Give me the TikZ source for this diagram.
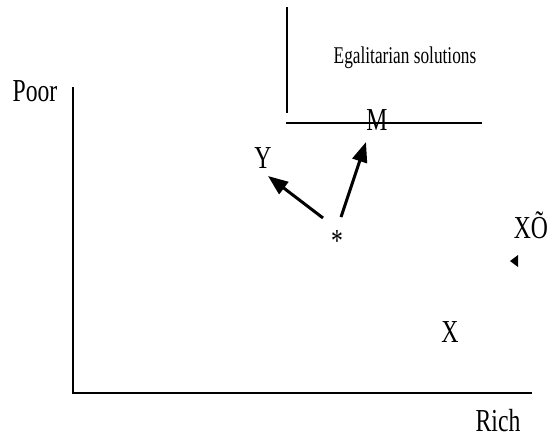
\documentclass[tikz,border=0pt]{standalone}
\usepackage{fontspec}
\setmainfont{Liberation Serif}[FakeStretch=0.74]
\newfontfamily\egalfont{Liberation Serif}[FakeStretch=0.72]
\usetikzlibrary{arrows.meta}
\begin{document}
\begin{tikzpicture}[x=1pt,y=-1pt,
  lbl/.style={font=\fontsize{32}{36}\selectfont, inner sep=0pt},
  smalllbl/.style={font=\egalfont\fontsize{24}{28}\selectfont, inner sep=0pt},
  axis/.style={line width=2pt},
  bound/.style={line width=2.6pt},
  arr/.style={line width=3pt, -{Triangle[length=20pt,width=15pt]}}]
\useasboundingbox (0,0) rectangle (550,445);
% axes
\coordinate (o) at (73,393);
\coordinate (ytop) at (73,87);
\coordinate (xend) at (532,393);
\draw[axis] (ytop) -- (o) -- (xend);
\node[lbl] (poor) at (35,91) {Poor};
\node[lbl] (rich) at (498,421) {Rich};
% egalitarian region
\coordinate (ev1) at (287,7);
\coordinate (ev2) at (287,113);
\coordinate (eh1) at (286,123);
\coordinate (eh2) at (482,123);
\draw[bound] (ev1) -- (ev2);
\draw[bound] (eh1) -- (eh2);
\node[smalllbl] (egal) at (405,58) {Egalitarian solutions};
% labels
\node[lbl] (M) at (377,120) {M};
\node[lbl] (Y) at (263,158) {Y};
\node[lbl, anchor=base] (star) at (337,251) {*};
\node[lbl] (X) at (450,332) {X};
\node[lbl] (Xt) at (531,225) {XÕ};
% arrows
\coordinate (s1) at (323,218);
\coordinate (t1) at (268,176);
\coordinate (s2) at (341,217);
\coordinate (t2) at (366,142);
\draw[arr] (s1) -- (t1);
\draw[arr] (s2) -- (t2);
% small marker
\fill (510,261) -- (518,255) -- (518,267) -- cycle;
\end{tikzpicture}
\end{document}
